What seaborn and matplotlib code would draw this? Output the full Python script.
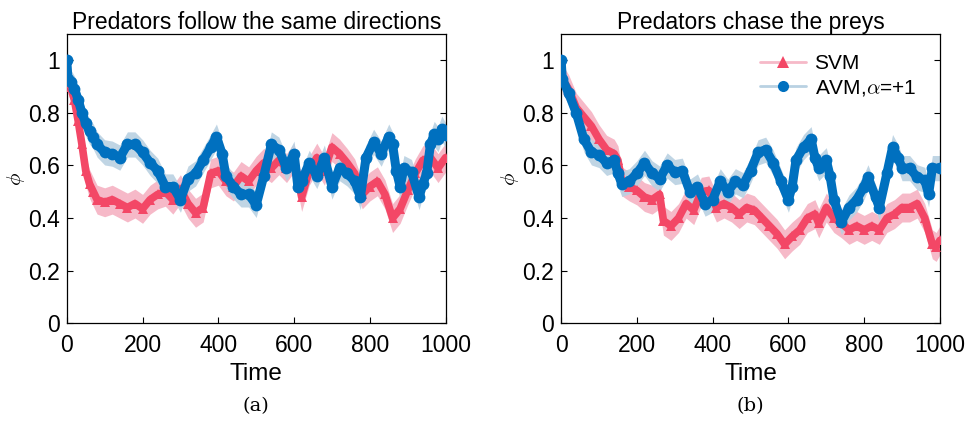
import numpy as np
import pandas as pd
import seaborn as sns
import matplotlib.pyplot as plt
from matplotlib.lines import Line2D

# panel (a): predators follow the same directions
t_a_svm = [0, 3, 10, 20, 30, 40, 50, 60, 70, 80, 100, 120, 140, 160, 180, 200, 220, 240, 260, 280,
           300, 320, 340, 360, 380, 400, 420, 440, 460, 480, 500, 520, 540, 560, 580, 600, 620, 640,
           660, 680, 700, 720, 740, 760, 780, 800, 820, 840, 860, 880, 900, 920, 940, 960, 980, 1000]
phi_a_svm = [1.0, 0.93, 0.90, 0.85, 0.77, 0.68, 0.58, 0.53, 0.50, 0.47, 0.46, 0.47, 0.455, 0.44, 0.455,
             0.435, 0.47, 0.49, 0.50, 0.47, 0.51, 0.455, 0.42, 0.44, 0.57, 0.58, 0.54, 0.52, 0.56, 0.54,
             0.58, 0.61, 0.59, 0.62, 0.59, 0.63, 0.48, 0.58, 0.63, 0.58, 0.67, 0.645, 0.61, 0.57, 0.49,
             0.52, 0.54, 0.49, 0.40, 0.435, 0.505, 0.57, 0.62, 0.63, 0.59, 0.63]

t_a_avm = [0, 3, 10, 20, 30, 40, 50, 60, 70, 80, 100, 120, 140, 160, 180, 200, 220, 240, 260, 280,
           300, 320, 340, 360, 380, 395, 410, 420, 440, 460, 480, 500, 520, 540, 560, 580, 600, 610,
           620, 640, 660, 680, 700, 720, 740, 760, 775, 790, 810, 830, 850, 860, 870, 880, 890, 910,
           930, 940, 950, 960, 970, 980, 990, 1000]
phi_a_avm = [1.0, 0.93, 0.918, 0.893, 0.85, 0.80, 0.76, 0.73, 0.71, 0.68, 0.65, 0.645, 0.63, 0.68, 0.68,
             0.65, 0.61, 0.58, 0.52, 0.52, 0.47, 0.55, 0.57, 0.62, 0.67, 0.71, 0.645, 0.56, 0.52, 0.49,
             0.49, 0.45, 0.56, 0.68, 0.66, 0.59, 0.645, 0.52, 0.54, 0.61, 0.56, 0.63, 0.52, 0.59, 0.57,
             0.54, 0.48, 0.63, 0.69, 0.645, 0.71, 0.68, 0.58, 0.52, 0.59, 0.575, 0.48, 0.53, 0.57, 0.68,
             0.72, 0.70, 0.74, 0.715]

# panel (b): predators chase the preys
t_b_svm = [0, 3, 20, 40, 60, 80, 100, 120, 140, 150, 160, 180, 200, 220, 240, 260, 270, 290, 310, 330,
           350, 370, 390, 410, 430, 450, 470, 490, 510, 530, 550, 570, 590, 610, 630, 650, 670, 680,
           700, 720, 740, 760, 780, 800, 820, 840, 860, 880, 900, 920, 940, 960, 980, 990, 1000]
phi_b_svm = [1.0, 0.93, 0.89, 0.82, 0.785, 0.75, 0.70, 0.66, 0.645, 0.62, 0.54, 0.52, 0.505, 0.48, 0.47,
             0.49, 0.39, 0.37, 0.40, 0.455, 0.43, 0.50, 0.505, 0.44, 0.455, 0.44, 0.415, 0.44, 0.43,
             0.40, 0.37, 0.34, 0.30, 0.33, 0.355, 0.40, 0.415, 0.38, 0.44, 0.40, 0.38, 0.355, 0.37,
             0.355, 0.37, 0.355, 0.40, 0.415, 0.44, 0.44, 0.455, 0.40, 0.30, 0.29, 0.315]

t_b_avm = [0, 3, 20, 40, 60, 80, 100, 120, 140, 150, 160, 180, 200, 220, 240, 260, 280, 300, 320, 340,
           360, 380, 400, 420, 440, 460, 480, 500, 520, 540, 560, 580, 600, 610, 620, 640, 660, 670,
           680, 700, 710, 720, 740, 760, 780, 800, 810, 830, 840, 860, 875, 890, 900, 920, 940, 960,
           970, 980, 1000]
phi_b_avm = [1.0, 0.93, 0.875, 0.80, 0.70, 0.65, 0.64, 0.61, 0.62, 0.57, 0.53, 0.54, 0.57, 0.61, 0.57,
             0.55, 0.60, 0.575, 0.58, 0.50, 0.52, 0.455, 0.47, 0.54, 0.50, 0.54, 0.525, 0.58, 0.65,
             0.66, 0.61, 0.54, 0.47, 0.52, 0.62, 0.67, 0.70, 0.63, 0.59, 0.62, 0.56, 0.47, 0.385, 0.44,
             0.47, 0.52, 0.555, 0.48, 0.44, 0.57, 0.67, 0.63, 0.59, 0.59, 0.555, 0.545, 0.49, 0.59, 0.59]

err_svm = 0.055
err_avm = 0.048

titles = ["Predators follow the same directions", "Predators chase the preys"]
captions = ["(a)", "(b)"]

red, red_band = "#f34766", "#f6b9c8"
blue, blue_band = "#0070bf", "#b9d1e2"

sns.set_style("ticks")
plt.rcParams["font.family"] = ["Liberation Sans", "DejaVu Sans"]
plt.rcParams["mathtext.fontset"] = "cm"
for key in ["text.color", "axes.labelcolor", "xtick.color", "ytick.color"]:
    plt.rcParams[key] = "black"

fig, axes = plt.subplots(1, 2, figsize=(9.68, 4.32), dpi=100)
fig.subplots_adjust(left=0.069, right=0.971, top=0.921, bottom=0.252, wspace=0.305)

panels = [
    (t_a_svm, phi_a_svm, t_a_avm, phi_a_avm),
    (t_b_svm, phi_b_svm, t_b_avm, phi_b_avm),
]

for ax, (ts, ps, ta, pa), title, cap in zip(axes, panels, titles, captions):
    ps = np.array(ps)
    pa = np.array(pa)
    ax.fill_between(ts, ps - err_svm, ps + err_svm, color=red_band, lw=0, zorder=1)
    ax.fill_between(ta, pa - err_avm, pa + err_avm, color=blue_band, lw=0, alpha=0.9, zorder=2)
    sns.lineplot(x=ts, y=ps, ax=ax, color=red, lw=5.5, marker="^", markersize=7,
                 markeredgewidth=0, sort=False, zorder=3)
    sns.lineplot(x=ta, y=pa, ax=ax, color=blue, lw=6.5, marker="o", markersize=8.5,
                 markeredgewidth=0, sort=False, zorder=4)
    ax.set_xlim(0, 1000)
    ax.set_ylim(0, 1.1)
    ax.set_xticks([0, 200, 400, 600, 800, 1000])
    ax.set_yticks([0, 0.2, 0.4, 0.6, 0.8, 1])
    ax.set_yticklabels(["0", "0.2", "0.4", "0.6", "0.8", "1"])
    ax.tick_params(direction="in", labelsize=16.5, length=4, width=0.8,
                   right=True, top=False)
    ax.tick_params(axis="x", pad=8)
    ax.tick_params(axis="y", pad=5)
    for s in ax.spines.values():
        s.set_linewidth(0.9)
        s.set_color("black")
    ax.set_title(title, fontsize=16.5, pad=4)
    ax.set_xlabel("Time", fontsize=17.5, labelpad=4)
    ax.set_ylabel(r"$\phi$", fontsize=15, labelpad=1)
    ax.text(0.5, -0.255, cap, transform=ax.transAxes, ha="center", va="top",
            fontsize=14, family="DejaVu Serif")

handles = [
    Line2D([], [], color=red_band, lw=2, marker="^", markersize=8, markerfacecolor=red,
           markeredgewidth=0),
    Line2D([], [], color=blue_band, lw=2, marker="o", markersize=8, markerfacecolor=blue,
           markeredgewidth=0),
]
axes[1].legend(handles, ["SVM", r"AVM,$\alpha$=+1"], loc="upper right", frameon=False,
               fontsize=15, handlelength=2.2, borderaxespad=0.3, handletextpad=0.4,
               labelspacing=0.2, bbox_to_anchor=(0.975, 0.98))

fig.savefig("out.png", dpi=100)
